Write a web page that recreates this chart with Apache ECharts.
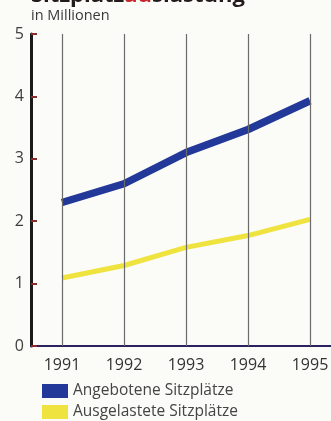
<!DOCTYPE html>
<html>
<head>
<meta charset="utf-8">
<script src="https://cdn.jsdelivr.net/npm/echarts@6/dist/echarts.min.js"></script>
<style>
  html, body { margin: 0; padding: 0; background: #fbfbf8; }
  #chart { width: 331px; height: 421px; }
</style>
</head>
<body>
<div id="chart"></div>
<script>
// Sitzplatzauslastung, in Millionen
const years = ['1991', '1992', '1993', '1994', '1995'];
const angeboten = [2.3, 2.6, 3.1, 3.47, 3.93];
const ausgelastet = [1.09, 1.29, 1.58, 1.77, 2.03];
const yTicks = [0, 1, 2, 3, 4, 5];

const FONT = '"Open Sans", "DejaVu Sans", sans-serif';
const BLUE = '#23399a';
const YELLOW = '#efe33f';

const chart = echarts.init(document.getElementById('chart'), null, { renderer: 'canvas' });

chart.setOption({
  backgroundColor: '#fbfbf8',
  animation: false,
  textStyle: { fontFamily: FONT },
  graphic: [
    {
      type: 'text', left: 31, top: -15,
      style: {
        text: '{a|Sitzplatz}{b|au}{a|slastung}',
        rich: {
          a: { fontSize: 22, fontWeight: 'bold', fill: '#231b1b', fontFamily: FONT },
          b: { fontSize: 22, fontWeight: 'bold', fill: '#c8252a', fontFamily: FONT }
        }
      }
    },
    {
      type: 'text', left: 31, top: 8,
      style: { text: 'in Millionen', fontSize: 14.5, fill: '#3a3a3a', fontFamily: FONT }
    }
  ],
  legend: {
    orient: 'vertical',
    left: 42, top: 383,
    padding: 0,
    itemWidth: 26, itemHeight: 14, itemGap: 5,
    icon: 'rect',
    textStyle: { fontSize: 15.5, color: '#444', fontFamily: FONT },
    data: ['Angebotene Sitzplätze', 'Ausgelastete Sitzplätze']
  },
  grid: { left: 31, width: 310, top: 34, height: 312, containLabel: false, outerBoundsMode: 'none' },
  xAxis: {
    type: 'category',
    data: years,
    boundaryGap: true,
    axisLine: { show: true, lineStyle: { color: '#2a2160', width: 2 } },
    axisTick: { show: false },
    axisLabel: { fontSize: 16, color: '#333', margin: 11, fontFamily: FONT },
    splitLine: { show: false }
  },
  yAxis: {
    type: 'value',
    min: 0, max: 5, interval: 1,
    axisLine: { show: true, lineStyle: { color: '#1a1a1a', width: 3 } },
    axisTick: { show: true, inside: true, length: 6, lineStyle: { color: '#8a2a2a', width: 2 } },
    axisLabel: {
      fontSize: 16, color: '#3d3d3d', margin: 7, fontFamily: FONT,
      formatter: v => yTicks.includes(v) ? String(v) : ''
    },
    splitLine: { show: false }
  },
  series: [
    {
      name: 'Angebotene Sitzplätze',
      type: 'line',
      data: angeboten,
      symbol: 'none',
      z: 4,
      itemStyle: { color: BLUE },
      lineStyle: { color: BLUE, width: 7.5 },
      markLine: {
        silent: true,
        symbol: 'none',
        label: { show: false },
        lineStyle: { color: '#6b6b6b', width: 1.2, type: 'solid' },
        data: years.map(y => ({ xAxis: y }))
      }
    },
    {
      name: 'Ausgelastete Sitzplätze',
      type: 'line',
      data: ausgelastet,
      symbol: 'none',
      z: 3,
      itemStyle: { color: YELLOW },
      lineStyle: { color: YELLOW, width: 5 }
    }
  ]
});
</script>
</body>
</html>
